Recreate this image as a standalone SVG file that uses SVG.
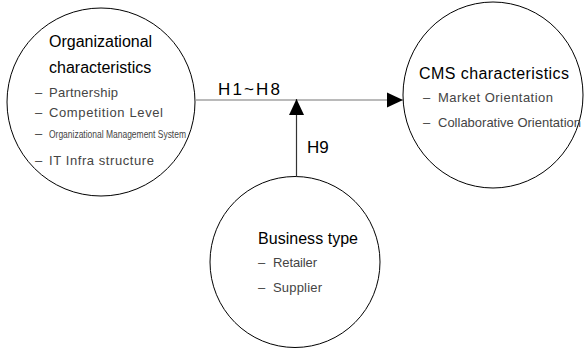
<svg xmlns="http://www.w3.org/2000/svg" width="584" height="349" viewBox="0 0 584 349">
<style>
.node{fill:#fff;stroke:#000;stroke-width:1}
.title{font-family:"Liberation Sans",Arial,sans-serif;font-size:16px;fill:#000}
.item{font-family:"Liberation Sans",Arial,sans-serif;font-size:13px;fill:#444}
.lbl{font-family:"Liberation Sans",Arial,sans-serif;font-size:17px;fill:#000}
.edge{stroke:#777;stroke-width:1.2;fill:none}
</style>
<defs>
<marker id="arr" markerWidth="16" markerHeight="16" refX="16" refY="8" orient="auto" markerUnits="userSpaceOnUse">
<path d="M0,0.5 L16,8 L0,15.5 Z" fill="#000"/>
</marker>
</defs>
<g id="org">
<ellipse class="node" cx="101" cy="102" rx="94" ry="94"/>
<text class="title" x="49" y="47">Organizational</text>
<text class="title" x="49" y="73">characteristics</text>
<text class="item" x="35" y="97">–</text>
<text class="item" x="49" y="97" textLength="69">Partnership</text>
<text class="item" x="35" y="117">–</text>
<text class="item" x="49" y="117" textLength="114">Competition Level</text>
<text class="item" x="35" y="138">–</text>
<text class="item" x="49" y="138" style="font-size:11px" textLength="137" lengthAdjust="spacingAndGlyphs">Organizational Management System</text>
<text class="item" x="35" y="165">–</text>
<text class="item" x="49" y="165" textLength="105">IT Infra structure</text>
</g>
<g id="cms">
<ellipse class="node" cx="493" cy="95" rx="90" ry="93"/>
<text class="title" x="419" y="79" textLength="150">CMS characteristics</text>
<text class="item" x="423" y="102">–</text>
<text class="item" x="438" y="102" textLength="115">Market Orientation</text>
<text class="item" x="423" y="127">–</text>
<text class="item" x="438" y="127" textLength="143" lengthAdjust="spacingAndGlyphs">Collaborative Orientation</text>
</g>
<g id="biz">
<ellipse class="node" cx="295" cy="262" rx="85" ry="85.5"/>
<text class="title" x="258" y="244" textLength="100">Business type</text>
<text class="item" x="258" y="267">–</text>
<text class="item" x="273" y="267" textLength="44">Retailer</text>
<text class="item" x="258" y="292">–</text>
<text class="item" x="273" y="292" textLength="49">Supplier</text>
</g>
<g id="connectors">
<line class="edge" x1="196" y1="100" x2="403" y2="100" marker-end="url(#arr)"/>
<line class="edge" x1="296.5" y1="177" x2="296.5" y2="99" stroke="#333" style="stroke:#333" marker-end="url(#arr)"/>
<text class="lbl" x="218" y="95" textLength="62">H1~H8</text>
<text class="lbl" x="307" y="153">H9</text>
</g>
</svg>
